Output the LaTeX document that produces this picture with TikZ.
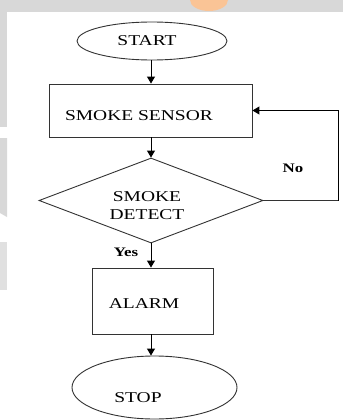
\documentclass[tikz,border=0pt]{standalone}
\usepackage{fontspec}
\setmainfont{Liberation Serif}
\newfontfamily\dfont[FakeStretch=1.3]{Liberation Serif}
\usetikzlibrary{shapes.geometric,arrows.meta}
\definecolor{bggray}{RGB}{216,216,216}
\definecolor{bgorange}{RGB}{250,196,150}
\tikzset{
  shapeline/.style={draw=black!80, line width=0.9pt},
  lbl/.style={font=\dfont\fontsize{15}{17}\selectfont, inner sep=0pt, align=center},
  yn/.style={font=\dfont\bfseries\fontsize{13}{15}\selectfont, inner sep=0pt},
  flow/.style={draw=black, line width=1pt, -{Triangle[width=8pt,length=7pt]}},
  plain/.style={draw=black!80, line width=0.9pt}
}
\begin{document}
\begin{tikzpicture}[x=1pt,y=-1pt]
\useasboundingbox (0,0) rectangle (343,420);
% background decorations
\fill[white] (0,0) rectangle (343,420);
\fill[bggray] (0,0) rectangle (343,12);
\fill[bggray] (0,0) rectangle (7,127);
\fill[bggray] (0,138) -- (7,138) -- (7,217) -- (0,213) -- cycle;
\fill[bggray!80] (0,242) rectangle (7,290);
\fill[bgorange] (190,0) arc[start angle=180, end angle=0, x radius=19, y radius=11] -- cycle;
% shapes
\node[ellipse, shapeline, minimum width=150pt, minimum height=38pt, inner sep=0pt] (start) at (152,41) {};
\node[lbl] (startt) at (147,41) {START};
\node[rectangle, shapeline, minimum width=203pt, minimum height=53pt, inner sep=0pt] (sensor) at (150.5,110.5) {};
\node[lbl] (sensort) at (139,116) {SMOKE SENSOR};
\node[diamond, shapeline, aspect=2.64, minimum width=224pt, minimum height=85pt, inner sep=0pt] (dia) at (151,200.5) {};
\node[lbl, text depth=0pt] (diat) at (147,206) {SMOKE\\[1pt]DETECT};
\node[rectangle, shapeline, minimum width=121pt, minimum height=66pt, inner sep=0pt] (alarm) at (152.5,301) {};
\node[lbl] (alarmt) at (144,304) {ALARM};
\node[ellipse, shapeline, minimum width=165pt, minimum height=63pt, inner sep=0pt] (stop) at (154.5,387.5) {};
\node[lbl] (stopt) at (138,398) {STOP};
% labels
\node[yn] (no) at (293,168) {No};
\node[yn] (yes) at (126,252) {Yes};
% connectors
\coordinate (loop) at (338,200.5);
\draw[flow] (start.south -| 151,0) -- (sensor.north -| 151,0);
\draw[flow] (sensor.south -| 151,0) -- (dia.north);
\draw[plain] (dia.east) -- (loop);
\draw[flow] (loop) |- (sensor.east);
\draw[flow] (dia.south) -- (alarm.north -| dia.south);
\draw[flow] (alarm.south -| 151,0) -- (stop.north -| 151,0);
\end{tikzpicture}
\end{document}
